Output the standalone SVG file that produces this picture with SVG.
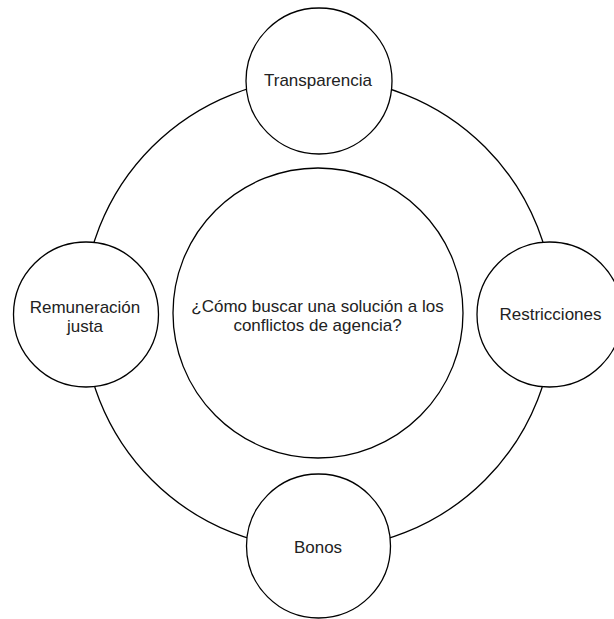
<svg xmlns="http://www.w3.org/2000/svg" width="614" height="619" viewBox="0 0 614 619">
<style>
.c{fill:#fff;stroke:#000;stroke-width:1.3}
.ring{fill:none;stroke:#000;stroke-width:1.3}
.t{font-family:"Liberation Sans",Arial,sans-serif;font-size:17px;fill:#222;text-anchor:middle}
</style>
<rect width="614" height="619" fill="#fff"/>
<g id="connectors">
<circle class="ring" cx="318.5" cy="313.5" r="235.5"/>
</g>
<g id="center">
<circle class="c" cx="318" cy="313" r="145"/>
<text class="t" x="317.5" y="311.5">¿Cómo buscar una solución a los</text>
<text class="t" x="317.5" y="330.5">conflictos de agencia?</text>
</g>
<g id="transparencia">
<circle class="c" cx="319" cy="81" r="73"/>
<text class="t" x="318" y="86">Transparencia</text>
</g>
<g id="remuneracion">
<circle class="c" cx="86" cy="314.5" r="72.5"/>
<text class="t" x="85" y="312.5">Remuneración</text>
<text class="t" x="85" y="332">justa</text>
</g>
<g id="restricciones">
<circle class="c" cx="549.5" cy="314.5" r="72.5"/>
<text class="t" x="550.5" y="320">Restricciones</text>
</g>
<g id="bonos">
<circle class="c" cx="318.5" cy="546" r="72"/>
<text class="t" x="318" y="552.5">Bonos</text>
</g>
</svg>
